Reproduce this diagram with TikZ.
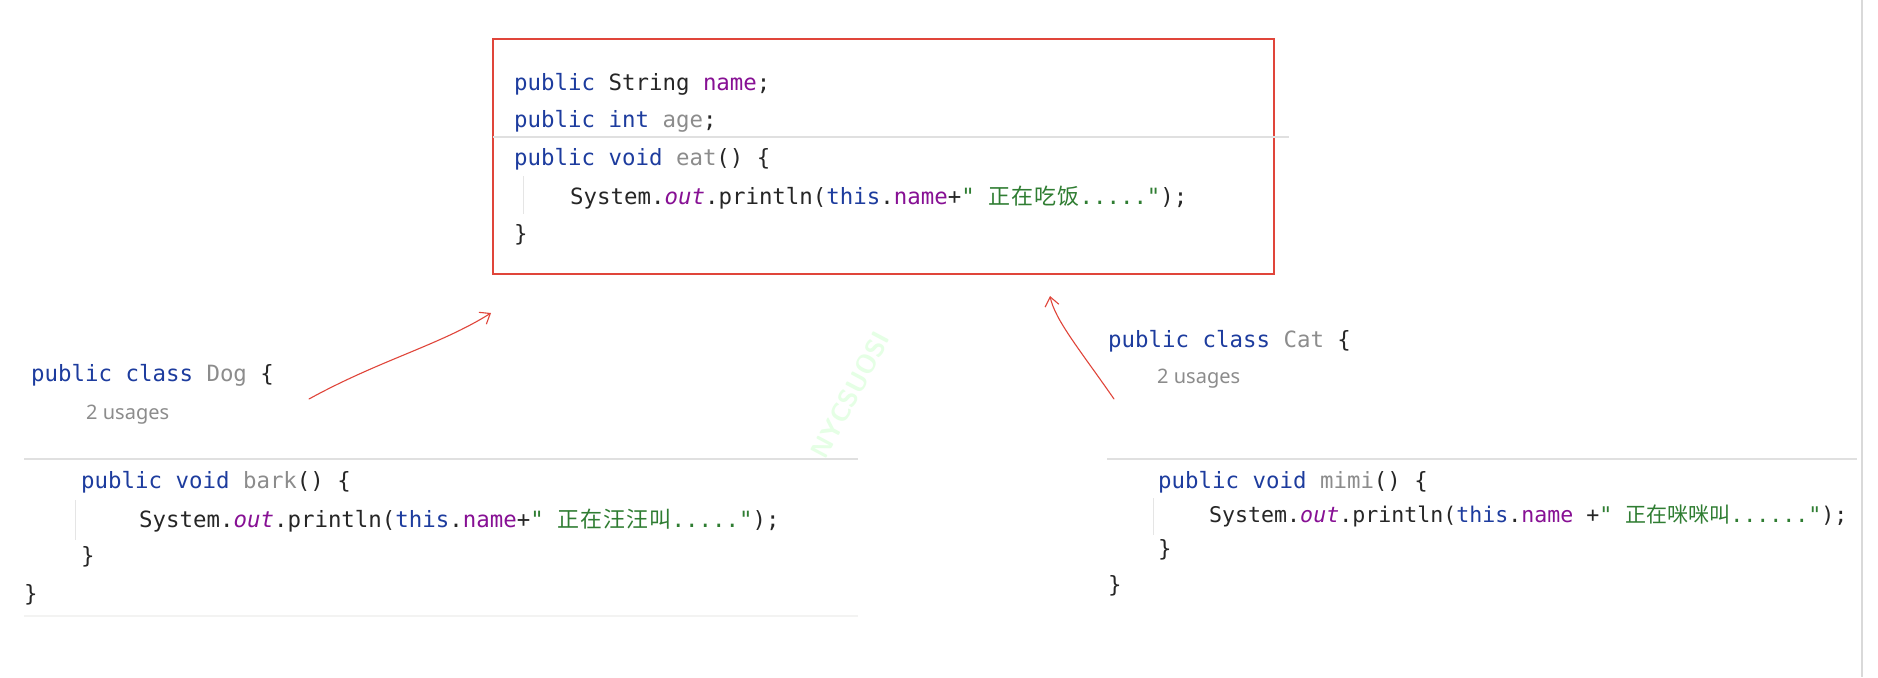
\documentclass[tikz,border=0pt]{standalone}
\usepackage{fontspec}
\setmonofont{DejaVu Sans Mono}
\setmainfont{Noto Sans}
\newfontfamily\cjk{Noto Sans CJK SC}
\usetikzlibrary{arrows.meta}
\definecolor{kw}{HTML}{1D3C9E}
\definecolor{fld}{HTML}{871094}
\definecolor{gr}{HTML}{8C8C8C}
\definecolor{str}{HTML}{2F7D32}
\definecolor{redbox}{HTML}{E0453A}
\newcommand{\K}[1]{\textcolor{kw}{#1}}
\newcommand{\F}[1]{\textcolor{fld}{#1}}
\newcommand{\G}[1]{\textcolor{gr}{#1}}
\newcommand{\Sx}[1]{\textcolor{str}{#1}}
\newcommand{\Cj}[1]{{\cjk\fontsize{22}{22}\selectfont\addfontfeature{LetterSpace=5} #1}}
\begin{document}
\begin{tikzpicture}[x=1pt,y=-1pt,
  code/.style={anchor=base west,inner sep=0pt,font=\ttfamily\fontsize{22.4}{22.4}\selectfont,text=black!85},
  usage/.style={anchor=base west,inner sep=0pt,font=\fontsize{20}{20}\selectfont,text=gr},
  sep/.style={draw=black!12,line width=1.2pt},
  guide/.style={draw=black!10,line width=0.8pt},
  pen/.style={draw=redbox,line width=1.1pt,line cap=round,-{Straight Barb[length=9pt,width=14pt]}}]
\useasboundingbox (0,0) rectangle (1878,677);
\fill[white] (0,0) rectangle (1878,677);
\draw[black!15,line width=1.5pt] (1862,0) -- (1862,677);
% watermark
\node[rotate=62,text=green!10!white,font=\sffamily\bfseries\fontsize{26}{26}\selectfont] (wm) at (850,395) {NYCSUOSI};
% top box
\node[draw=redbox,line width=1.6pt,minimum width=781pt,minimum height=235pt,anchor=north west,inner sep=0pt] (box) at (492,38) {};
\node[code] (l1) at (514,90) {\K{public} String \F{name};};
\node[code] (l2) at (514,127) {\K{public int} \G{age};};
\draw[sep] (493,137) -- (1289,137);
\node[code] (l3) at (514,165) {\K{public void} \G{eat}() \{};
\draw[guide] (523,176) -- (523,214);
\node[code] (l4) at (570,204) {System.\F{\textit{out}}.println(\K{this}.\F{name}+\Sx{" \Cj{正在吃饭}....."});};
\node[code] (l5) at (514,241) {\}};
% Dog
\node[code] (d1) at (31,381) {\K{public class} \G{Dog} \{};
\node[usage] (d2) at (86,419) {2 usages};
\draw[sep] (24,459) -- (858,459);
\node[code] (d3) at (81,488) {\K{public void} \G{bark}() \{};
\draw[guide] (75,500) -- (75,540);
\node[code] (d4) at (139,527) {System.\F{\textit{out}}.println(\K{this}.\F{name}+\Sx{" \Cj{正在汪汪叫}....."});};
\node[code] (d5) at (81,563) {\}};
\node[code] (d6) at (24,601) {\}};
\draw[draw=yellow!8!black!6,line width=1.2pt] (24,616) -- (858,616);
% Cat
\node[code] (c1) at (1108,347) {\K{public class} \G{Cat} \{};
\node[usage] (c2) at (1157,383) {2 usages};
\draw[sep] (1107,459) -- (1857,459);
\node[code] (c3) at (1158,488) {\K{public void} \G{mimi}() \{};
\draw[guide] (1153,498) -- (1153,535);
\node[code,font=\ttfamily\fontsize{21.6}{21.6}\selectfont] (c4) at (1209,522) {System.\F{\textit{out}}.println(\K{this}.\F{name} +\Sx{" {\cjk\fontsize{21}{21}\selectfont 正在咪咪叫}......"});};
\node[code] (c5) at (1158,556) {\}};
\node[code] (c6) at (1108,592) {\}};
% arrows
\coordinate (a1s) at (309,399);
\coordinate (a1e) at (491,313);
\coordinate (a2s) at (1114,399);
\coordinate (a2e) at (1050,296);
\draw[pen] (a1s) .. controls (380,360) and (440,345) .. (a1e);
\draw[pen] (a2s) .. controls (1080,350) and (1055,320) .. (a2e);
\end{tikzpicture}
\end{document}
